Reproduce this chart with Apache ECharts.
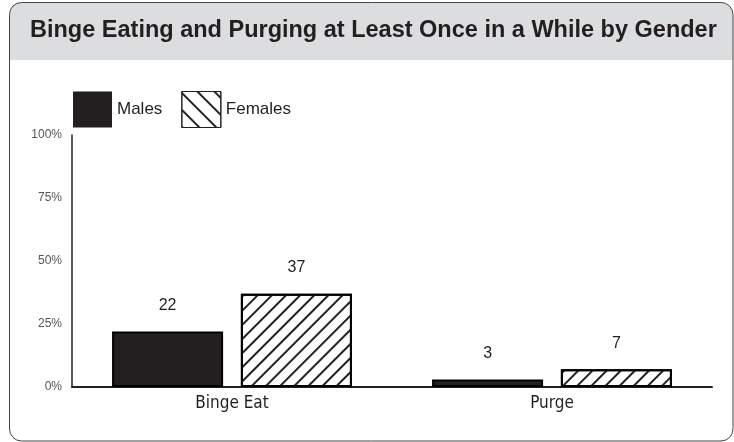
<!DOCTYPE html>
<html>
<head>
<meta charset="utf-8">
<script src="https://cdn.jsdelivr.net/npm/echarts@6/dist/echarts.min.js"></script>
<style>html,body{margin:0;padding:0;background:#fff}#c{width:734px;height:442px}</style>
</head>
<body>
<div id="c"></div>
<script>
const titleText = 'Binge Eating and Purging at Least Once in a While by Gender';
const categories = ['Binge Eat', 'Purge'];
const seriesNames = ['Males', 'Females'];
const males = [22, 3];
const females = [37, 7];
const yTicks = [0, 25, 50, 75, 100];

const chart = echarts.init(document.getElementById('c'), null, {renderer: 'canvas'});
const hatchBar = {symbol: 'rect', symbolSize: 1, dashArrayX: [1, 0], dashArrayY: [1.2, 7.6], rotation: -Math.PI / 4, color: '#231f20'};
const hatchLegend = {symbol: 'rect', symbolSize: 1, dashArrayX: [1, 0], dashArrayY: [1.2, 9.4], rotation: Math.PI / 4, color: '#231f20'};

chart.setOption({
  animation: false,
  backgroundColor: '#fff',
  graphic: [
    {type: 'rect', z: -10, shape: {x: 9.5, y: 2.5, width: 723.5, height: 57.5, r: [12, 12, 0, 0]}, style: {fill: '#dcdddf'}},
    {type: 'rect', z: 100, shape: {x: 9.5, y: 2.5, width: 723.5, height: 438.5, r: 12}, style: {fill: null, stroke: '#444', lineWidth: 1}},
    {type: 'text', z: 101, x: 30, y: 31, style: {text: titleText, fill: '#231f20', verticalAlign: 'middle', font: 'bold 23.5px "Liberation Sans", Arial, sans-serif'}}
  ],
  legend: {
    left: 73, top: 91, padding: 0, itemWidth: 39, itemHeight: 36, itemGap: 19,
    icon: 'rect',
    textStyle: {fontSize: 17, color: '#231f20', fontFamily: 'Liberation Sans', padding: [3, 0, 0, 0]},
    data: [
      {name: seriesNames[0], itemStyle: {color: '#231f20', borderWidth: 0}},
      {name: seriesNames[1], itemStyle: {color: '#fff', borderColor: '#231f20', borderWidth: 1, decal: hatchLegend}}
    ]
  },
  grid: {left: 72, right: 22, top: 135, bottom: 55, containLabel: false},
  xAxis: {
    type: 'category', data: categories,
    axisLine: {lineStyle: {color: '#231f20', width: 2}},
    axisTick: {show: false},
    axisLabel: {fontSize: 17, color: '#231f20', fontFamily: '"DejaVu Sans Condensed", "Liberation Sans", sans-serif', margin: 8}
  },
  yAxis: {
    type: 'value', min: 0, max: 100, interval: 25,
    axisLine: {show: true, lineStyle: {color: '#231f20', width: 1.5}},
    axisTick: {show: false},
    splitLine: {show: false},
    axisLabel: {fontSize: 12, color: '#555', fontFamily: 'Liberation Sans', margin: 10,
      formatter: v => yTicks.includes(v) ? v + '%' : ''}
  },
  series: [
    {name: seriesNames[0], type: 'bar', data: males, barWidth: '34.7%', barGap: '16%',
      itemStyle: {color: '#231f20', borderColor: '#000', borderWidth: 2},
      label: {show: true, position: 'top', distance: 18, fontSize: 16, color: '#231f20', fontFamily: 'Liberation Sans'}},
    {name: seriesNames[1], type: 'bar', data: females, barWidth: '34.7%', barGap: '16%',
      itemStyle: {color: '#fff', borderColor: '#000', borderWidth: 2, decal: hatchBar},
      label: {show: true, position: 'top', distance: 18, fontSize: 16, color: '#231f20', fontFamily: 'Liberation Sans'}}
  ]
});
</script>
</body>
</html>
